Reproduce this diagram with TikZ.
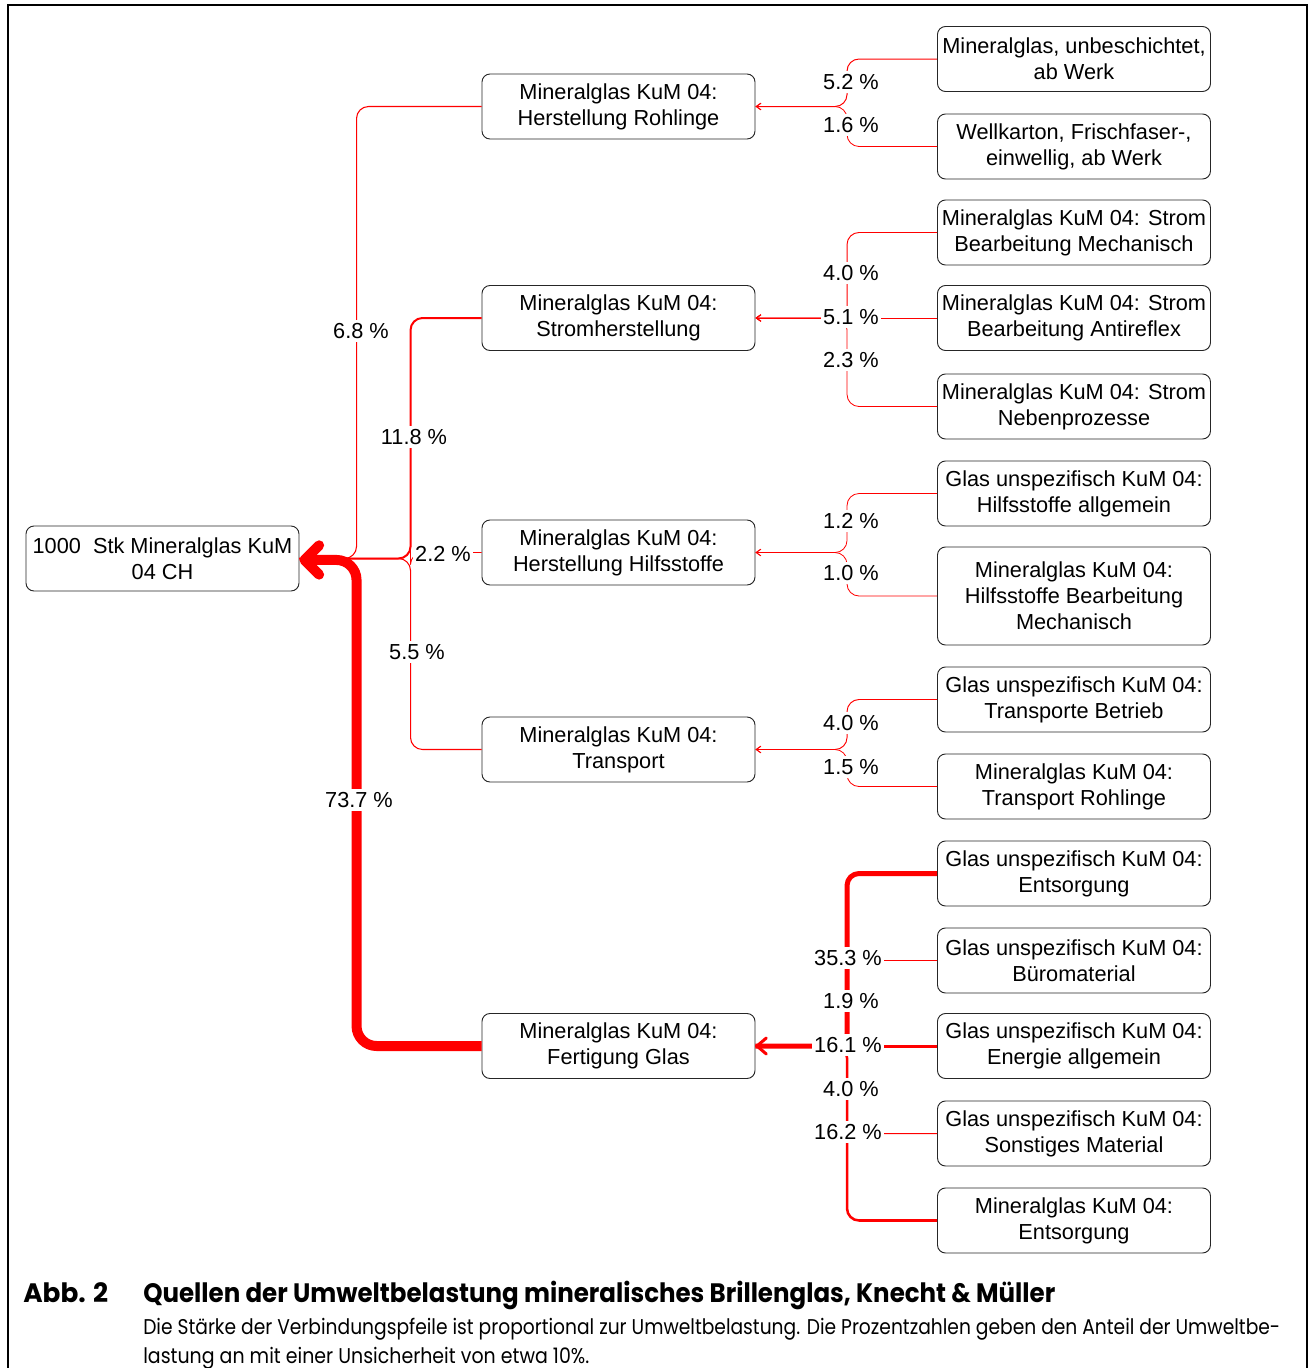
\documentclass[tikz,border=0pt]{standalone}
\usepackage{fontspec}
\setmainfont{Liberation Sans}
\newfontfamily\capfont{Poppins}
\usetikzlibrary{arrows.meta}
\begin{document}
\begin{tikzpicture}[x=0.75pt,y=-0.75pt,
  box/.style={draw=black!85, line width=0.7pt, rounded corners=6pt, minimum width=204.75pt,
    minimum height=48.75pt, align=center, inner sep=0pt, font=\fontsize{16.3}{19.5}\selectfont},
  flow/.style={draw=red, rounded corners=9pt, line join=round},
  pct/.style={fill=white, inner xsep=1.5pt, inner ysep=2.5pt, font=\fontsize{16.3}{19.5}\selectfont},
  thintip/.style={-{Straight Barb[length=3.5pt,width=5pt]}},
]
\useasboundingbox (0,0) rectangle (1313,1368);
% frame
\draw[line width=1.9pt] (8,1368) -- (8,5) -- (1307,5) -- (1307,1368);

% nodes
\node[box] (root) at (162.5,558.5) {1000\ \ Stk Mineralglas KuM\\04 CH};
\node[box] (m1) at (618.5,106.5) {Mineralglas KuM 04:\\Herstellung Rohlinge};
\node[box] (m2) at (618.5,318) {Mineralglas KuM 04:\\Stromherstellung};
\node[box] (m3) at (618.5,552.5) {Mineralglas KuM 04:\\Herstellung Hilfsstoffe};
\node[box] (m4) at (618.5,749.5) {Mineralglas KuM 04:\\Transport};
\node[box] (m5) at (618.5,1046) {Mineralglas KuM 04:\\Fertigung Glas};

\node[box] (r1) at (1074,59) {Mineralglas, unbeschichtet,\\ab Werk};
\node[box] (r2) at (1074,146.5) {Wellkarton, Frischfaser-,\\einwellig, ab Werk};
\node[box] (r3) at (1074,232.5) {Mineralglas KuM 04: Strom\\Bearbeitung Mechanisch};
\node[box] (r4) at (1074,318) {Mineralglas KuM 04: Strom\\Bearbeitung Antireflex};
\node[box] (r5) at (1074,406.5) {Mineralglas KuM 04: Strom\\Nebenprozesse};
\node[box] (r6) at (1074,493.5) {Glas unspezifisch KuM 04:\\Hilfsstoffe allgemein};
\node[box, minimum height=73.5pt] (r7) at (1074,596) {Mineralglas KuM 04:\\Hilfsstoffe Bearbeitung\\Mechanisch};
\node[box] (r8) at (1074,699.5) {Glas unspezifisch KuM 04:\\Transporte Betrieb};
\node[box] (r9) at (1074,786.5) {Mineralglas KuM 04:\\Transport Rohlinge};
\node[box] (r10) at (1074,873.5) {Glas unspezifisch KuM 04:\\Entsorgung};
\node[box] (r11) at (1074,960.5) {Glas unspezifisch KuM 04:\\Büromaterial};
\node[box] (r12) at (1074,1046) {Glas unspezifisch KuM 04:\\Energie allgemein};
\node[box] (r13) at (1074,1133.5) {Glas unspezifisch KuM 04:\\Sonstiges Material};
\node[box] (r14) at (1074,1220.5) {Mineralglas KuM 04:\\Entsorgung};

% right flows
\draw[flow, line width=0.75pt, thintip] (r1.west) -- ++(-90,0) |- (m1.east);
\draw[flow, line width=0.6pt, thintip] (r2.west) -- ++(-90,0) |- (m1.east);

\draw[flow, line width=0.7pt, thintip] (r3.west) -- ++(-90,0) |- (m2.east);
\draw[flow, line width=0.75pt, thintip] (r4.west) -- (m2.east);
\draw[flow, line width=0.6pt, thintip] (r5.west) -- ++(-90,0) |- (m2.east);

\draw[flow, line width=0.6pt, thintip] (r6.west) -- ++(-90,0) |- (m3.east);
\draw[flow, line width=0.6pt, thintip] (r7.west) -- ++(-90,0) |- (m3.east);

\draw[flow, line width=0.7pt, thintip] (r8.west) -- ++(-90,0) |- (m4.east);
\draw[flow, line width=0.6pt, thintip] (r9.west) -- ++(-90,0) |- (m4.east);

\draw[flow, line width=3.75pt] (r10.west) -- ++(-90,0) |- (m5.east);
\draw[flow, line width=0.6pt] (r11.west) -- ++(-90,0) |- (m5.east);
\draw[flow, line width=0.75pt] (r13.west) -- ++(-90,0) |- (m5.east);
\draw[flow, line width=1.9pt] (r14.west) -- ++(-90,0) |- (m5.east);
\draw[flow, line width=2.25pt, -{Straight Barb[length=7pt,width=12pt,round]}] (r12.west) -- (m5.east);

% left flows
\draw[flow, line width=0.8pt] (m1.west) -- ++(-125,0) |- (root.east);
\draw[flow, line width=1.5pt] (m2.west) -- ++(-71,0) |- (root.east);
\draw[flow, line width=0.6pt] (m3.west) -- ++(-71,0) |- (root.east);
\draw[flow, line width=0.8pt] (m4.west) -- ++(-71,0) |- (root.east);
\draw[flow, line width=7.5pt, rounded corners=15pt, -{Straight Barb[length=11pt,width=22pt,round]}] (m5.west) -- ++(-125,0) |- ([yshift=-1.1pt]root.east);

% percentage labels
\node[pct] (p1) at (851,82) {5.2 \%};
\node[pct] (p2) at (851,125) {1.6 \%};
\node[pct] (p3) at (851,273) {4.0 \%};
\node[pct] (p4) at (851,317) {5.1 \%};
\node[pct] (p5) at (851,360) {2.3 \%};
\node[pct] (p6) at (851,521) {1.2 \%};
\node[pct] (p7) at (851,573) {1.0 \%};
\node[pct] (p8) at (851,723) {4.0 \%};
\node[pct] (p9) at (851,767) {1.5 \%};
\node[pct] (p10) at (848,958) {35.3 \%};
\node[pct] (p11) at (851,1001) {1.9 \%};
\node[pct] (p12) at (848,1045) {16.1 \%};
\node[pct] (p13) at (851,1089) {4.0 \%};
\node[pct] (p14) at (848,1132) {16.2 \%};
\node[pct] (q1) at (361,331) {6.8 \%};
\node[pct] (q2) at (414,437) {11.8 \%};
\node[pct] (q3) at (443,554) {2.2 \%};
\node[pct] (q4) at (417,652) {5.5 \%};
\node[pct] (q5) at (359,800) {73.7 \%};

% caption
\node[anchor=base west, inner sep=0pt] (abb) at (23,1302)
  {\capfont\bfseries\fontsize{20}{24}\selectfont\resizebox{63.75pt}{\height}{Abb. 2}};
\node[anchor=base west, inner sep=0pt] (ttl) at (143,1302)
  {\capfont\bfseries\fontsize{20}{24}\selectfont\resizebox{684pt}{\height}{Quellen der Umweltbelastung mineralisches Brillenglas, Knecht \& Müller}};
\node[anchor=base west, inner sep=0pt] (cap1) at (143,1334)
  {\capfont\fontsize{16}{20}\selectfont\resizebox{852.75pt}{\height}{Die Stärke der Verbindungspfeile ist proportional zur Umweltbelastung. Die Prozentzahlen geben den Anteil der Umweltbe-}};
\node[anchor=base west, inner sep=0pt] (cap2) at (143,1363)
  {\capfont\fontsize{16}{20}\selectfont\resizebox{334.5pt}{\height}{lastung an mit einer Unsicherheit von etwa 10\%.}};
\end{tikzpicture}
\end{document}
